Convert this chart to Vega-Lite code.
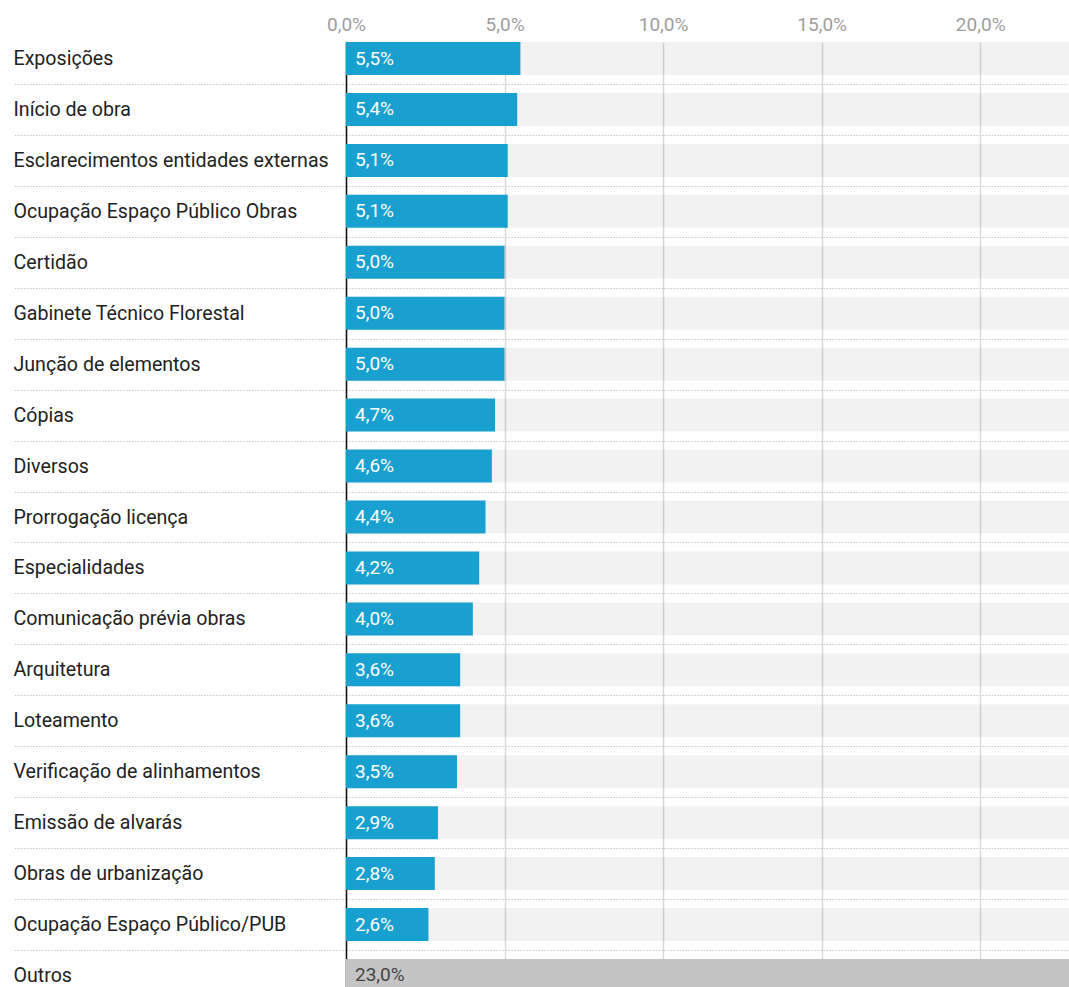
{
  "$schema": "https://vega.github.io/schema/vega-lite/v6.json",
  "autosize": {"type": "none"},
  "padding": {"left": 346, "top": 42, "right": 0, "bottom": 0},
  "width": 723,
  "height": 950,
  "background": "#ffffff",
  "data": {
    "values": [
      {"cat": "Exposições", "v": 0.055},
      {"cat": "Início de obra", "v": 0.054},
      {"cat": "Esclarecimentos entidades externas", "v": 0.051},
      {"cat": "Ocupação Espaço Público Obras", "v": 0.051},
      {"cat": "Certidão", "v": 0.050},
      {"cat": "Gabinete Técnico Florestal", "v": 0.050},
      {"cat": "Junção de elementos", "v": 0.050},
      {"cat": "Cópias", "v": 0.047},
      {"cat": "Diversos", "v": 0.046},
      {"cat": "Prorrogação licença", "v": 0.044},
      {"cat": "Especialidades", "v": 0.042},
      {"cat": "Comunicação prévia obras", "v": 0.040},
      {"cat": "Arquitetura", "v": 0.036},
      {"cat": "Loteamento", "v": 0.036},
      {"cat": "Verificação de alinhamentos", "v": 0.035},
      {"cat": "Emissão de alvarás", "v": 0.029},
      {"cat": "Obras de urbanização", "v": 0.028},
      {"cat": "Ocupação Espaço Público/PUB", "v": 0.026},
      {"cat": "Outros", "v": 0.230}
    ]
  },
  "encoding": {
    "y": {
      "field": "cat",
      "type": "nominal",
      "sort": null,
      "title": null,
      "scale": {"paddingInner": 0.352, "paddingOuter": 0},
      "axis": {
        "orient": "left",
        "labelAlign": "left",
        "labelBaseline": "middle",
        "labelFont": "Roboto",
        "labelFontSize": 19.6,
        "labelColor": "#222222",
        "labelLimit": 400,
        "labelPadding": 0,
        "domain": true,
        "domainColor": "#111111",
        "domainWidth": 1.5,
        "ticks": true,
        "tickSize": 333,
        "tickColor": "#c8c8c8",
        "tickDash": [1.5, 1.5],
        "tickWidth": 1,
        "bandPosition": 0.5,
        "tickOffset": 25.47,
        "labelOffset": -25.47,
        "grid": true,
        "gridColor": "#c8c8c8",
        "gridDash": [1.5, 1.5],
        "gridWidth": 1
      }
    }
  },
  "layer": [
    {
      "mark": {"type": "bar", "color": "#000000", "opacity": 0.05},
      "encoding": {
        "x": {
          "datum": 0.228,
          "type": "quantitative",
          "scale": {"domain": [0, 0.228], "nice": false, "zero": true},
          "axis": {
            "orient": "top",
            "title": null,
            "values": [0, 0.05, 0.1, 0.15, 0.2],
            "format": ".1%",
            "labelFont": "Roboto",
            "labelFontSize": 19,
            "labelFlush": false,
            "labelAlign": "center",
            "labelColor": "#9e9e9e",
            "labelPadding": 8,
            "domain": false,
            "ticks": false,
            "grid": true,
            "gridColor": "#d9d9d9",
            "gridWidth": 1.5
          }
        }
      }
    },
    {
      "mark": {"type": "bar", "clip": true},
      "encoding": {
        "x": {"field": "v", "type": "quantitative"},
        "color": {
          "condition": {"test": "datum.cat === 'Outros'", "value": "#c4c4c4"},
          "value": "#18a1d0"
        }
      }
    },
    {
      "mark": {"type": "text", "align": "left", "baseline": "middle", "dx": 9, "font": "Roboto", "fontSize": 19},
      "encoding": {
        "x": {"datum": 0, "type": "quantitative"},
        "text": {"field": "v", "type": "quantitative", "format": ".1%"},
        "color": {
          "condition": {"test": "datum.cat === 'Outros'", "value": "#444444"},
          "value": "#ffffff"
        }
      }
    }
  ],
  "config": {
    "view": {"stroke": null},
    "locale": {
      "number": {"decimal": ",", "thousands": ".", "grouping": [3], "currency": ["", " €"]}
    }
  }
}
